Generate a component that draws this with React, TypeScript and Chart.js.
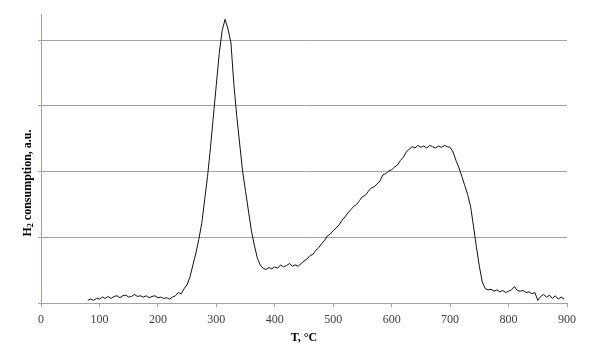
import { useEffect, useRef } from "react";
import { Chart, registerables } from "chart.js";

Chart.register(...registerables);

// Temperature (°C) of each sampled point
const temperatures = [
  80, 85, 90, 95, 100, 105, 110, 115, 120, 125, 130, 135, 140, 145, 150, 155, 160, 165, 170, 175,
  180, 185, 190, 195, 200, 205, 210, 215, 220, 225, 230, 235, 240, 245, 250, 255, 260, 265, 270, 275,
  280, 285, 290, 295, 300, 305, 310, 315, 320, 325, 330, 335, 340, 345, 350, 355, 360, 365, 370, 375,
  380, 385, 390, 395, 400, 405, 410, 415, 420, 425, 430, 435, 440, 445, 450, 455, 460, 465, 470, 475,
  480, 485, 490, 495, 500, 505, 510, 515, 520, 525, 530, 535, 540, 545, 550, 555, 560, 565, 570, 575,
  580, 585, 590, 595, 600, 605, 610, 615, 620, 625, 630, 635, 640, 645, 650, 655, 660, 665, 670, 675,
  680, 685, 690, 695, 700, 705, 710, 715, 720, 725, 730, 735, 740, 745, 750, 755, 760, 765, 770, 775,
  780, 785, 790, 795, 800, 805, 810, 815, 820, 825, 830, 835, 840, 845, 850, 855, 860, 865, 870, 875,
  880, 885, 890, 895,
];

// H2 consumption (a.u.)
const h2Consumption = [
  0.04, 0.06, 0.04, 0.07, 0.06, 0.09, 0.07, 0.10, 0.07, 0.10, 0.11, 0.08, 0.11, 0.12, 0.09, 0.10, 0.13, 0.10, 0.11, 0.09,
  0.11, 0.08, 0.10, 0.11, 0.08, 0.09, 0.07, 0.08, 0.06, 0.09, 0.11, 0.16, 0.14, 0.22, 0.28, 0.40, 0.58, 0.76, 0.97, 1.21,
  1.57, 1.93, 2.37, 2.85, 3.33, 3.80, 4.15, 4.32, 4.17, 3.96, 3.33, 2.84, 2.42, 2.00, 1.70, 1.40, 1.10, 0.88, 0.69, 0.58,
  0.53, 0.51, 0.54, 0.52, 0.55, 0.53, 0.58, 0.55, 0.57, 0.60, 0.56, 0.58, 0.56, 0.60, 0.64, 0.67, 0.72, 0.74, 0.80, 0.84,
  0.90, 0.95, 1.02, 1.05, 1.10, 1.14, 1.19, 1.26, 1.31, 1.37, 1.42, 1.47, 1.50, 1.56, 1.62, 1.64, 1.70, 1.75, 1.77, 1.81,
  1.86, 1.95, 1.97, 2.01, 2.03, 2.07, 2.10, 2.17, 2.22, 2.30, 2.34, 2.38, 2.36, 2.40, 2.37, 2.39, 2.36, 2.40, 2.38, 2.36,
  2.39, 2.37, 2.40, 2.38, 2.37, 2.30, 2.17, 2.06, 1.93, 1.79, 1.65, 1.47, 1.17, 0.85, 0.56, 0.32, 0.22, 0.20, 0.21, 0.18,
  0.20, 0.17, 0.19, 0.16, 0.18, 0.20, 0.25, 0.19, 0.18, 0.19, 0.16, 0.17, 0.14, 0.16, 0.04, 0.10, 0.13, 0.09, 0.12, 0.07,
  0.11, 0.06, 0.09, 0.06,
];

const xMin = 0;
const xMax = 900;
const xStep = 100;
const yMin = 0;
const yMax = 4.4;
const yStep = 1;

const xTitle = "T, °C";
const yTitleMain = "H";
const yTitleSub = "2";
const yTitleRest = " consumption, a.u.";

const FONT = "'Liberation Serif', 'Times New Roman', serif";
const GRID = "#a8a299";

const axisTitles = {
  id: "axisTitles",
  afterDraw(chart: any) {
    const { ctx, chartArea } = chart;
    ctx.save();
    ctx.fillStyle = "#000";
    ctx.font = `bold 12px ${FONT}`;
    ctx.textAlign = "center";
    ctx.textBaseline = "middle";
    ctx.fillText(xTitle, (chartArea.left + chartArea.right) / 2, chartArea.bottom + 35);

    // rotated y title with subscript
    ctx.translate(chartArea.left - 13, chartArea.top + 169);
    ctx.rotate(-Math.PI / 2);
    ctx.textAlign = "left";
    const mainFont = `bold 12px ${FONT}`;
    const subFont = `bold 8px ${FONT}`;
    ctx.font = mainFont;
    const w1 = ctx.measureText(yTitleMain).width;
    const w3 = ctx.measureText(yTitleRest).width;
    ctx.font = subFont;
    const w2 = ctx.measureText(yTitleSub).width;
    const total = w1 + w2 + w3;
    let x = -total / 2;
    ctx.font = mainFont;
    ctx.fillText(yTitleMain, x, 0);
    x += w1;
    ctx.font = subFont;
    ctx.fillText(yTitleSub, x, 3);
    x += w2;
    ctx.font = mainFont;
    ctx.fillText(yTitleRest, x, 0);
    ctx.restore();
  },
};

export default function App() {
  const ref = useRef<HTMLCanvasElement | null>(null);

  useEffect(() => {
    if (!ref.current) return;
    const points = temperatures.map((t, i) => ({ x: t, y: h2Consumption[i] }));
    const chart = new Chart(ref.current, {
      type: "line",
      data: {
        datasets: [
          {
            data: points,
            borderColor: "#111111",
            borderWidth: 1,
            pointRadius: 0,
            tension: 0,
            fill: false,
          },
        ],
      },
      options: {
        animation: false,
        responsive: false,
        maintainAspectRatio: false,
        layout: { padding: { left: 0, right: 33, top: 14, bottom: 0 } },
        plugins: {
          legend: { display: false },
          tooltip: { enabled: false },
          title: { display: false },
        },
        scales: {
          x: {
            type: "linear",
            min: xMin,
            max: xMax,
            afterFit: (scale: any) => {
              scale.height = 51;
            },
            ticks: {
              stepSize: xStep,
              color: "#404040",
              font: { family: FONT, size: 12 },
              padding: 6,
              maxRotation: 0,
            },
            grid: {
              drawOnChartArea: false,
              drawTicks: true,
              tickLength: 4,
              color: GRID,
            },
            border: { color: GRID, width: 1 },
          },
          y: {
            type: "linear",
            min: yMin,
            max: yMax,
            afterFit: (scale: any) => {
              scale.width = 41;
            },
            ticks: {
              stepSize: yStep,
              display: false,
              includeBounds: false,
            },
            grid: {
              color: GRID,
              drawTicks: true,
              tickLength: 3,
              lineWidth: 1,
            },
            border: { color: GRID, width: 1 },
          },
        },
      },
      plugins: [axisTitles],
    });
    return () => chart.destroy();
  }, []);

  return (
    <div style={{ position: "fixed", left: 0, top: 0, width: 600, height: 354, background: "#fff" }}>
      <canvas ref={ref} width={600} height={354} style={{ width: 600, height: 354, display: "block" }} />
    </div>
  );
}
